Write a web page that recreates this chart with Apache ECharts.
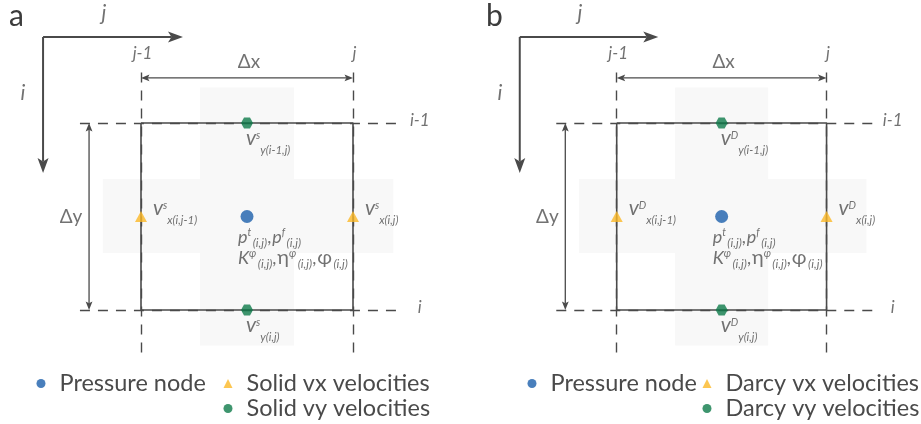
<!DOCTYPE html>
<html>
<head>
<meta charset="utf-8">
<title>Staggered grid cell</title>
<script src="https://cdn.jsdelivr.net/npm/echarts@6/dist/echarts.min.js"></script>
<style>
  html, body { margin: 0; padding: 0; background: #ffffff; }
  #chart { width: 921px; height: 424px; }
</style>
</head>
<body>
<div id="chart"></div>
<script>
// Panels: a = solid velocities, b = Darcy velocities
const panels = ['a', 'b'];
const phaseNames = ['Solid', 'Darcy'];
const phaseTags = ['s', 'D'];

// Cell geometry in grid units: column j-1 at x = 0, column j at x = 1;
// row i-1 at y = 0, row i at y = 1 (y grows downwards)
const columnNames = ['j-1', 'j'];
const columnPos = [0, 1];
const rowNames = ['i-1', 'i'];
const rowPos = [0, 1];

// Unknowns on the staggered grid
const pressureNodes = [[0.5, 0.5]];
const vxNodes = [[0, 0.5], [1, 0.5]];
const vxIndices = ['x(i,j-1)', 'x(i,j)'];
const vyNodes = [[0.5, 0], [0.5, 1]];
const vyIndices = ['y(i-1,j)', 'y(i,j)'];
// Quantities stored at the pressure node: [symbol, superscript]
const pressureVars = [['p', 't'], ['p', 'f']];
const materialVars = [['K', 'φ'], ['η', 'φ'], ['φ', '']];
const nodeIndex = '(i,j)';

// ---- styling ----
const FONT = 'Lato, "Open Sans", sans-serif';
const INK = '#4f4f4f';
const LINE = '#4a4a4a';
const BLUE = '#1b5fab';
const YELLOW = '#fbb826';
const GREEN = '#0e7a4a';
const SHADE = '#f8f8f8';
const HEXAGON = 'path://M-5,-8.66L5,-8.66L10,0L5,8.66L-5,8.66L-10,0Z';
const PANEL_STEP = 477;

// move a rich-text token up (dy < 0) or down (dy > 0) from the line middle,
// with an optional gap on its left
function shifted(base, dy, gapLeft) {
  const g = gapLeft || 0;
  return Object.assign({}, base, { padding: dy >= 0 ? [2 * dy, 0, 0, g] : [0, 0, -2 * dy, g] });
}

function velocityRich() {
  const base = { fontFamily: FONT, color: INK, fontStyle: 'italic', lineHeight: 30 };
  return {
    v: Object.assign({}, base, { fontSize: 21 }),
    sup: shifted(Object.assign({}, base, { fontSize: 10.5 }), -2.5),
    sub: shifted(Object.assign({}, base, { fontSize: 11.5 }), 12)
  };
}

function pressureRich() {
  const base = { fontFamily: FONT, color: INK, lineHeight: 21 };
  return {
    m: Object.assign({}, base, { fontSize: 18, fontStyle: 'italic' }),
    g: Object.assign({}, base, { fontSize: 20 }),
    c: Object.assign({}, base, { fontSize: 18, padding: [0, 1, 0, 0] }),
    sup: shifted(Object.assign({}, base, { fontSize: 10.5, fontStyle: 'italic' }), -4),
    sub: shifted(Object.assign({}, base, { fontSize: 12, fontStyle: 'italic' }), 6, 1.5)
  };
}

function term(pair) {
  const s = pair[0], sup = pair[1];
  const key = /[A-Za-z]/.test(s) ? 'm' : 'g';
  return '{' + key + '|' + s + '}' + (sup ? '{sup|' + sup + '}' : '') + '{sub|' + nodeIndex + '}';
}
const pressureText = pressureVars.map(term).join('{c|,}') + '\n' + materialVars.map(term).join('{c|,}');

// arrows drawn in axis space: [x1, y1, x2, y2, doubleHeaded, heavy]
function renderArrow(params, api) {
  const p1 = api.coord([api.value(0), api.value(1)]);
  const p2 = api.coord([api.value(2), api.value(3)]);
  const both = api.value(4) === 1;
  const heavy = api.value(5) === 1;
  const L = heavy ? 15 : 8.5, W = heavy ? 5.5 : 3.4, N = heavy ? 3.5 : 1.8, lw = heavy ? 2 : 1.3;
  const dx = p2[0] - p1[0], dy = p2[1] - p1[1];
  const len = Math.sqrt(dx * dx + dy * dy);
  const ux = dx / len, uy = dy / len, px = -uy, py = ux;
  function head(tip, s) {
    const bx = tip[0] - s * ux * L, by = tip[1] - s * uy * L;
    return {
      type: 'polygon',
      shape: { points: [tip, [bx + px * W, by + py * W], [tip[0] - s * ux * (L - N), tip[1] - s * uy * (L - N)], [bx - px * W, by - py * W]] },
      style: { fill: LINE }
    };
  }
  const start = both ? [p1[0] + ux * (L - N), p1[1] + uy * (L - N)] : p1;
  const end = [p2[0] - ux * (L - N), p2[1] - uy * (L - N)];
  const children = [{
    type: 'line',
    shape: { x1: start[0], y1: start[1], x2: end[0], y2: end[1] },
    style: { stroke: LINE, lineWidth: lw }
  }, head(p2, 1)];
  if (both) children.push(head(p1, -1));
  return { type: 'group', children: children };
}

function note(x, y, text, size, italic, offset) {
  return {
    value: [x, y],
    label: {
      formatter: text, fontSize: size, fontStyle: italic ? 'italic' : 'normal',
      offset: offset || [0, 0]
    }
  };
}

const grids = [], xAxes = [], yAxes = [], series = [], titles = [], legends = [];
const legendText = { fontFamily: FONT, fontSize: 23.5, color: '#4a4a4a', padding: [0, 0, 0, 9] };

panels.forEach(function (panel, k) {
  const phase = phaseNames[k];
  const tag = phaseTags[k];
  grids.push({ left: 13.8 + k * PANEL_STEP, top: 10.8, width: 434.6, height: 374 });
  xAxes.push({ type: 'value', gridIndex: k, min: -0.6, max: 1.45, show: false });
  yAxes.push({ type: 'value', gridIndex: k, min: -0.6, max: 1.4, inverse: true, show: false });
  titles.push({
    text: panel, left: 9 + k * PANEL_STEP, top: 1, padding: 0,
    textStyle: { fontFamily: FONT, fontSize: 30, fontWeight: 'normal', color: '#3c3c3c' }
  });

  const c0 = columnPos[0], c1 = columnPos[1], r0 = rowPos[0], r1 = rowPos[1];
  const axes = { xAxisIndex: k, yAxisIndex: k };

  // cell outline with the light stencil shading behind it
  series.push(Object.assign({
    type: 'line', name: 'cell', silent: true, z: 3,
    symbol: 'none',
    lineStyle: { color: LINE, width: 1.6 },
    data: [[c0, r0], [c1, r0], [c1, r1], [c0, r1], [c0, r0]],
    markArea: {
      silent: true,
      itemStyle: { color: SHADE, borderWidth: 0 },
      data: [
        [{ coord: [0.278, -0.19] }, { coord: [0.722, 1.19] }],
        [{ coord: [-0.18, 0.30] }, { coord: [1.19, 0.695] }]
      ]
    }
  }, axes));

  // dashed grid lines through the cell edges
  const dashed = [];
  columnPos.forEach(function (c) { dashed.push({ coords: [[c, -0.27], [c, 1.26]] }); });
  rowPos.forEach(function (r) { dashed.push({ coords: [[-0.288, r], [1.222, r]] }); });
  series.push(Object.assign({
    type: 'lines', coordinateSystem: 'cartesian2d', silent: true, z: 2,
    lineStyle: { color: LINE, width: 1.4, type: [10, 8], opacity: 1 },
    data: dashed
  }, axes));

  // index direction arrows and cell-size arrows
  series.push(Object.assign({
    type: 'custom', silent: true, z: 4,
    encode: { x: [0, 2], y: [1, 3] },
    renderItem: renderArrow,
    data: [
      [-0.462, -0.46, 0.198, -0.46, 0, 1],
      [-0.462, -0.46, -0.462, 0.267, 0, 1],
      [c0, -0.241, c1, -0.241, 1, 0],
      [-0.245, r0, -0.245, r1, 1, 0]
    ]
  }, axes));

  // text annotations
  const notes = [
    note(-0.175, -0.586, 'j', 21, true),
    note(-0.557, -0.16, 'i', 21, true),
    note(0.5, -0.328, 'Δx', 19, false, [2, 0]),
    note(-0.33, 0.5, 'Δy', 19, false)
  ];
  columnPos.forEach(function (c, n) { notes.push(note(c, -0.372, columnNames[n], 17, true, [1.5, 0])); });
  rowPos.forEach(function (r, n) { notes.push(note(1.315, r, rowNames[n], 17, true, [0, -2])); });
  series.push(Object.assign({
    type: 'scatter', name: 'notes', silent: true, z: 5,
    symbolSize: 1, itemStyle: { color: 'rgba(0,0,0,0)' },
    label: { show: true, position: 'inside', align: 'center', verticalAlign: 'middle', color: INK, fontFamily: FONT },
    data: notes
  }, axes));

  // pressure node
  series.push(Object.assign({
    type: 'scatter', name: 'Pressure node', z: 7,
    symbol: 'circle', symbolSize: 13, itemStyle: { color: BLUE },
    label: {
      show: true, position: [-2.5, 16.5], align: 'left', verticalAlign: 'top',
      formatter: pressureText, rich: pressureRich()
    },
    data: pressureNodes
  }, axes));

  // horizontal velocity nodes
  series.push(Object.assign({
    type: 'scatter', name: phase + ' vx velocities', z: 7,
    symbol: 'triangle', symbolSize: [12, 11], itemStyle: { color: YELLOW },
    label: { show: true, position: [18, -3.2], align: 'left', verticalAlign: 'middle', rich: velocityRich() },
    data: vxNodes.map(function (p, n) {
      return { value: p, label: { formatter: '{v|v}{sup|' + tag + '}{sub|' + vxIndices[n] + '}' } };
    })
  }, axes));

  // vertical velocity nodes
  series.push(Object.assign({
    type: 'scatter', name: phase + ' vy velocities', z: 7,
    symbol: HEXAGON, symbolSize: [12, 11], itemStyle: { color: GREEN },
    label: { show: true, position: [5, 21], align: 'left', verticalAlign: 'middle', rich: velocityRich() },
    data: vyNodes.map(function (p, n) {
      return { value: p, label: { formatter: '{v|v}{sup|' + tag + '}{sub|' + vyIndices[n] + '}' } };
    })
  }, axes));

  legends.push({
    left: [36.5, 527.5][k], top: 371.5, padding: 0, itemWidth: 9, itemHeight: 9,
    selectedMode: false, textStyle: legendText,
    data: [{ name: 'Pressure node', icon: 'circle' }]
  });
  legends.push({
    left: [223.5, 702.5][k], top: 371.5, padding: 0, orient: 'vertical', itemGap: 1,
    itemWidth: 9, itemHeight: 9,
    selectedMode: false, textStyle: legendText,
    data: [
      { name: phase + ' vx velocities', icon: 'triangle' },
      { name: phase + ' vy velocities', icon: 'circle' }
    ]
  });
});

const chart = echarts.init(document.getElementById('chart'), null, { renderer: 'canvas' });
chart.setOption({
  animation: false,
  backgroundColor: '#ffffff',
  title: titles,
  legend: legends,
  grid: grids,
  xAxis: xAxes,
  yAxis: yAxes,
  series: series
});
</script>
</body>
</html>
